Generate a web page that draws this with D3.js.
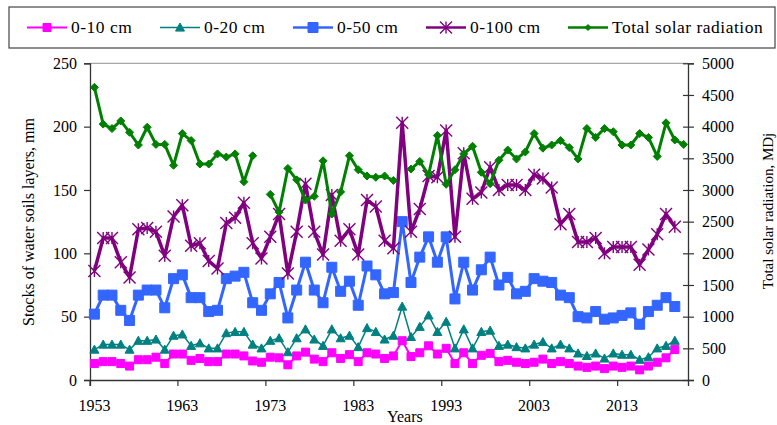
<!DOCTYPE html>
<html>
<head>
<meta charset="utf-8">
<script src="https://cdn.jsdelivr.net/npm/d3@7"></script>
<style>
  body { margin: 0; background: #fff; }
  svg { display: block; }
</style>
</head>
<body>
<div id="chart"></div>
<script>
// categories (solar radiation has one more year than the soil layers)
const years = [1953, 1954, 1955, 1956, 1957, 1958, 1959, 1960, 1961, 1962,
  1963, 1964, 1965, 1966, 1967, 1968, 1969, 1970, 1971, 1972,
  1973, 1974, 1975, 1976, 1977, 1978, 1979, 1980, 1981, 1982,
  1983, 1984, 1985, 1986, 1987, 1988, 1989, 1990, 1991, 1992,
  1993, 1994, 1995, 1996, 1997, 1998, 1999, 2000, 2001, 2002,
  2003, 2004, 2005, 2006, 2007, 2008, 2009, 2010, 2011, 2012,
  2013, 2014, 2015, 2016, 2017, 2018, 2019, 2020];
const tickYears = [1953, 1963, 1973, 1983, 1993, 2003, 2013];
const leftTicks = [0, 50, 100, 150, 200, 250];
const rightTicks = [0, 500, 1000, 1500, 2000, 2500, 3000, 3500, 4000, 4500, 5000];

// stocks of water, mm (1953-2019)
const layer10 = [13, 14.5, 14.5, 13, 11, 16, 16, 18, 13, 20.5,
  20.5, 15.5, 17, 14.5, 14.5, 20.5, 20.5, 19, 15, 14,
  18, 17.5, 12, 19, 22, 16.5, 14.5, 21.5, 17, 20,
  14.5, 21.5, 20.5, 17, 19, 31, 18.5, 21.5, 27, 20.5,
  25, 13, 21.5, 13, 19.5, 21, 14.5, 15.5, 14, 13,
  14, 16.5, 13, 14.5, 13, 11, 10, 11, 9, 11,
  10, 11, 8, 11, 14, 17.5, 24];
const layer20 = [24, 28, 28, 28, 24, 31, 31, 32, 24, 35,
  36, 27, 29, 25, 25, 37, 38, 38, 28, 25,
  31, 33, 22, 33, 40, 32, 27, 40, 33, 35,
  26, 41, 38, 32, 35, 58, 34, 42, 51, 38,
  46, 25, 40, 25, 38, 39, 27, 28, 26, 25,
  28, 30, 25, 28, 25, 21, 19, 21, 17, 21,
  20, 20, 16, 18, 25, 27, 31];
const layer50 = [52, 67, 67, 55, 47, 67, 71, 71, 57, 80,
  83, 65, 65, 54, 55, 80, 82, 85, 61, 55,
  68, 77, 49, 71, 93, 71, 61, 89, 70, 78,
  59, 90, 83, 68, 69, 125, 77, 97, 113, 93,
  113, 64, 93, 71, 87, 97, 75, 81, 68, 70,
  80, 78, 77, 67, 65, 50, 49, 54, 48, 49,
  51, 53, 44, 54, 59, 65, 58];
const layer100 = [86, 112, 112, 93, 81, 119, 120, 117, 98, 129,
  138, 106, 108, 94, 88, 124, 128, 140, 108, 96,
  113, 131, 84, 117, 155, 117, 99, 146, 110, 119,
  99, 142, 137, 110, 104, 203, 117, 135, 161, 160,
  197, 113, 179, 143, 148, 168, 150, 154, 154, 150,
  162, 159, 152, 123, 131, 109, 109, 112, 100, 105,
  105, 105, 91, 103, 115, 131, 121];
// total solar radiation, MDj (1953-2020, no value in 1972 and 1988)
const solar = [4620, 4040, 3970, 4090, 3910, 3710, 3990, 3720, 3720, 3390,
  3890, 3780, 3410, 3410, 3570, 3520, 3570, 3130, 3540, null,
  2930, 2650, 3340, 3160, 2840, 2900, 3460, 2620, 2970, 3540,
  3320, 3220, 3200, 3220, 3150, null, 3330, 3450, 3240, 3860,
  3090, 3320, 3570, 3690, 3280, 3100, 3470, 3630, 3490, 3600,
  3890, 3660, 3710, 3780, 3670, 3490, 3970, 3830, 3970, 3920,
  3710, 3710, 3890, 3830, 3530, 4060, 3790, 3720];

const seriesNames = ['0-10 cm', '0-20 cm', '0-50 cm', '0-100 cm', 'Total solar radiation'];

const FONT = "'Liberation Serif', 'Times New Roman', serif";
const width = 777;
const height = 425;
const plot = { left: 90, right: 688, top: 63.3, bottom: 380 };

const svg = d3.select('#chart').append('svg')
  .attr('width', width)
  .attr('height', height)
  .attr('font-family', FONT);

const xScale = d3.scaleBand().domain(years).range([plot.left, plot.right]);
const yLeft = d3.scaleLinear().domain([0, 250]).range([plot.bottom, plot.top]);
const yRight = d3.scaleLinear().domain([0, 5000]).range([plot.bottom, plot.top]);
const bw = xScale.bandwidth();

// marker shapes (size = full width)
function markerPath(type, s) {
  const h = s / 2;
  if (type === 'square') return `M${-h},${-h}H${h}V${h}H${-h}Z`;
  if (type === 'triangle') return `M0,${-h}L${h},${h * 0.8}L${-h},${h * 0.8}Z`;
  if (type === 'diamond') return `M0,${-h}L${h},0L0,${h}L${-h},0Z`;
  // star: X with a vertical stroke
  return `M${-h},${-h}L${h},${h}M${-h},${h}L${h},${-h}M0,${-h}V${h}`;
}

const styles = [
  { color: '#ff00ff', width: 2, marker: 'square', size: 8, filled: true },
  { color: '#008080', width: 1.5, marker: 'triangle', size: 9, filled: true },
  { color: '#3366ff', width: 3, marker: 'square', size: 10, filled: true },
  { color: '#800080', width: 3.5, marker: 'star', size: 12, filled: false },
  { color: '#008000', width: 3, marker: 'diamond', size: 8, filled: true }
];

// top border of the plot area
svg.append('line')
  .attr('x1', plot.left).attr('x2', plot.right)
  .attr('y1', plot.top).attr('y2', plot.top)
  .attr('stroke', '#a6a6a6')
  .attr('stroke-width', 1.3);

function styleAxis(g) {
  g.attr('font-family', FONT).attr('font-size', 16);
  g.select('.domain').attr('stroke', '#333').attr('stroke-width', 1.3);
  g.selectAll('.tick line').attr('stroke', '#333').attr('stroke-width', 1.2);
  g.selectAll('.tick text').attr('fill', '#000');
}

// left axis
const leftAxis = svg.append('g')
  .attr('transform', `translate(${plot.left},0)`)
  .call(d3.axisLeft(yLeft).tickValues(leftTicks).tickSizeOuter(0).tickSize(6).tickPadding(7));
styleAxis(leftAxis);

// right axis, ticks cross the line
const rightAxis = svg.append('g')
  .attr('transform', `translate(${plot.right},0)`)
  .call(d3.axisRight(yRight).tickValues(rightTicks).tickFormat(d3.format('d'))
    .tickSizeOuter(0).tickSize(6).tickPadding(8));
rightAxis.selectAll('.tick line').attr('x1', -5);
styleAxis(rightAxis);

// bottom axis: labels on category centres, ticks on category boundaries
const bottomAxis = svg.append('g')
  .attr('transform', `translate(0,${plot.bottom})`)
  .call(d3.axisBottom(xScale).tickValues(tickYears).tickSizeOuter(0).tickSize(6).tickPadding(14));
bottomAxis.selectAll('.tick line').attr('transform', `translate(${-bw / 2},0)`);
styleAxis(bottomAxis);

// series
const waterSeries = [layer10, layer20, layer50, layer100];

function drawSeries(values, scale, st) {
  const pts = values.map((v, i) => ({ year: years[i], value: v }));
  const line = d3.line()
    .defined(d => d.value != null)
    .x(d => xScale(d.year) + bw / 2)
    .y(d => scale(d.value));
  svg.append('path')
    .attr('d', line(pts))
    .attr('fill', 'none')
    .attr('stroke', st.color)
    .attr('stroke-width', st.width)
    .attr('stroke-linejoin', 'round');
  svg.append('g').selectAll('path')
    .data(pts.filter(d => d.value != null))
    .enter().append('path')
    .attr('transform', d => `translate(${xScale(d.year) + bw / 2},${scale(d.value)})`)
    .attr('d', markerPath(st.marker, st.size))
    .attr('fill', st.filled ? st.color : 'none')
    .attr('stroke', st.color)
    .attr('stroke-width', st.filled ? 1 : 1.4);
}

waterSeries.forEach((s, i) => drawSeries(s, yLeft, styles[i]));
drawSeries(solar, yRight, styles[4]);

// axis titles
svg.append('text')
  .attr('transform', 'translate(34,222) rotate(-90)')
  .attr('text-anchor', 'middle')
  .attr('font-size', 16)
  .text('Stocks of water soils layers, mm');

svg.append('text')
  .attr('transform', 'translate(773,211) rotate(-90)')
  .attr('text-anchor', 'middle')
  .attr('font-size', 15)
  .text('Total solar radiation, MDj');

svg.append('text')
  .attr('x', 387)
  .attr('y', 421.5)
  .attr('font-size', 16)
  .text('Years');

// legend
const legendX = [27, 160, 293, 426, 568];
const legend = svg.append('g');
legend.append('rect')
  .attr('x', 9).attr('y', 7)
  .attr('width', 766).attr('height', 41)
  .attr('fill', '#fff')
  .attr('stroke', '#444')
  .attr('stroke-width', 1.2);

seriesNames.forEach((name, i) => {
  const st = styles[i];
  const g = legend.append('g').attr('transform', `translate(${legendX[i]},27.5)`);
  g.append('line')
    .attr('x1', 0).attr('x2', 40)
    .attr('stroke', st.color)
    .attr('stroke-width', Math.min(st.width, 2.5));
  g.append('path')
    .attr('transform', 'translate(20,0)')
    .attr('d', markerPath(st.marker, i === 4 ? 6 : st.size))
    .attr('fill', st.filled ? st.color : 'none')
    .attr('stroke', st.color)
    .attr('stroke-width', st.filled ? 1 : 1.4);
  g.append('text')
    .attr('x', 44)
    .attr('y', 5.5)
    .attr('font-size', 17.5)
    .attr('letter-spacing', 0.5)
    .text(name);
});

svg.selectAll('text').style('font-family', FONT);
</script>
</body>
</html>
